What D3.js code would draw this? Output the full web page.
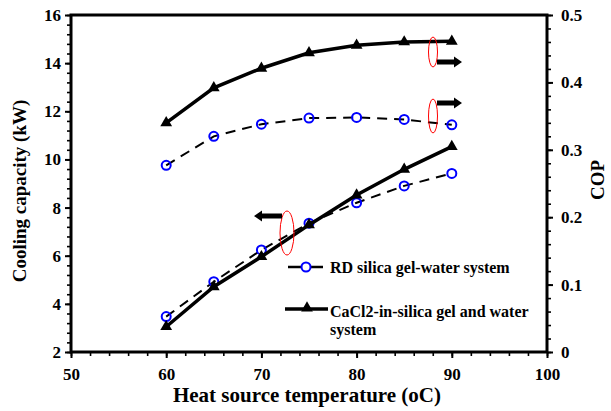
<!DOCTYPE html>
<html>
<head>
<meta charset="utf-8">
<script src="https://cdn.jsdelivr.net/npm/d3@7"></script>
<style>
  body { margin: 0; background: #fff; }
  text { font-family: "Liberation Serif", "Times New Roman", serif; font-weight: bold; }
</style>
</head>
<body>
<div id="chart"></div>
<script>
// temperatures (oC)
const temps = [60, 65, 70, 75, 80, 85, 90];

// cooling capacity (kW), left axis
const coolRD = [3.47, 4.92, 6.24, 7.35, 8.20, 8.90, 9.42];
const coolCaCl2 = [3.05, 4.71, 5.96, 7.28, 8.52, 9.59, 10.53];

// COP, right axis
const copRD = [0.277, 0.320, 0.338, 0.347, 0.348, 0.345, 0.337];
const copCaCl2 = [0.340, 0.392, 0.421, 0.444, 0.455, 0.460, 0.461];

const xTicks = [50, 60, 70, 80, 90, 100];
const yLeftTicks = [2, 4, 6, 8, 10, 12, 14, 16];
const yRightTicks = [0, 0.1, 0.2, 0.3, 0.4, 0.5];

const legendLabels = ['RD silica gel-water system', 'CaCl2-in-silica gel and water', 'system'];

const W = 611, H = 411;
const pLeft = 71, pRight = 547, pTop = 15, pBottom = 352;

const svg = d3.select('#chart').append('svg')
  .attr('width', W)
  .attr('height', H);

const x = d3.scaleLinear().domain([50, 100]).range([pLeft, pRight]);
const yL = d3.scaleLinear().domain([2, 16]).range([pBottom, pTop]);
const yR = d3.scaleLinear().domain([0, 0.5]).range([pBottom, pTop]);

// minor ticks first, then major ones with labels
function minor(axis, values, tx, ty) {
  const g = svg.append('g').attr('transform', `translate(${tx},${ty})`)
    .call(axis.tickValues(values).tickSize(4).tickFormat(''));
  g.select('.domain').remove();
  g.selectAll('line').attr('stroke', '#000').attr('stroke-width', 1.6);
}
minor(d3.axisBottom(x), d3.range(50, 100.01, 2), 0, pBottom);
minor(d3.axisLeft(yL), d3.range(2, 16.01, 0.4), pLeft, 0);
minor(d3.axisRight(yR), d3.range(0, 0.501, 0.02), pRight, 0);

function major(axis, tx, ty) {
  const g = svg.append('g').attr('transform', `translate(${tx},${ty})`).call(axis);
  g.select('.domain').remove();
  g.selectAll('line').attr('stroke', '#000').attr('stroke-width', 2);
  g.selectAll('text').attr('fill', '#000').style('font-size', '17px');
  return g;
}
major(d3.axisBottom(x).tickValues(xTicks).tickSize(6).tickPadding(10).tickFormat(d3.format('d')), 0, pBottom);
major(d3.axisLeft(yL).tickValues(yLeftTicks).tickSize(6).tickPadding(4).tickFormat(d3.format('d')), pLeft, 0);
major(d3.axisRight(yR).tickValues(yRightTicks).tickSize(6).tickPadding(8).tickFormat(d => d === 0 ? '0' : d3.format('.1f')(d)), pRight, 0);

// frame
svg.append('rect')
  .attr('x', pLeft).attr('y', pTop)
  .attr('width', pRight - pLeft).attr('height', pBottom - pTop)
  .attr('fill', 'none').attr('stroke', '#000').attr('stroke-width', 3);

const tri = d3.symbol().type(d3.symbolTriangle).size(60);

function series(vals, yScale, kind) {
  const pts = temps.map((t, i) => [x(t), yScale(vals[i])]);
  const line = d3.line();
  const path = svg.append('path').attr('d', line(pts)).attr('fill', 'none').attr('stroke', '#000');
  if (kind === 'tri') {
    path.attr('stroke-width', 3.5);
    svg.append('g').selectAll('path').data(pts).join('path')
      .attr('d', tri).attr('transform', d => `translate(${d[0]},${d[1]})`).attr('fill', '#000');
  } else {
    path.attr('stroke-width', 2).attr('stroke-dasharray', '10,7');
    svg.append('g').selectAll('circle').data(pts).join('circle')
      .attr('cx', d => d[0]).attr('cy', d => d[1]).attr('r', 4.5)
      .attr('fill', 'none').attr('stroke', '#0000ff').attr('stroke-width', 2);
  }
}
series(copRD, yR, 'circ');
series(copCaCl2, yR, 'tri');
series(coolRD, yL, 'circ');
series(coolCaCl2, yL, 'tri');

// ellipses marking the curve groups
const ellipses = [
  { cx: 433, cy: 52, rx: 4.5, ry: 15 },
  { cx: 433, cy: 116, rx: 4.5, ry: 17 },
  { cx: 287, cy: 233, rx: 7, ry: 22 }
];
svg.append('g').selectAll('ellipse').data(ellipses).join('ellipse')
  .attr('cx', d => d.cx).attr('cy', d => d.cy).attr('rx', d => d.rx).attr('ry', d => d.ry)
  .attr('fill', 'none').attr('stroke', '#ff0000').attr('stroke-width', 1);

// arrows pointing to the relevant axis
function arrow(x0, x1, y) {
  const dir = Math.sign(x1 - x0);
  const hx = x1 - dir * 8;
  svg.append('path')
    .attr('d', `M${x0},${y - 2.5}L${hx},${y - 2.5}L${hx},${y - 5.5}L${x1},${y}L${hx},${y + 5.5}L${hx},${y + 2.5}L${x0},${y + 2.5}Z`)
    .attr('fill', '#000');
}
arrow(437, 462, 62);
arrow(437, 462, 103);
arrow(282, 254, 216);

// legend
const lg = svg.append('g');
lg.append('line').attr('x1', 288).attr('x2', 323).attr('y1', 267).attr('y2', 267)
  .attr('stroke', '#000').attr('stroke-width', 2.5);
lg.append('circle').attr('cx', 306).attr('cy', 267).attr('r', 4.5)
  .attr('fill', '#fff').attr('stroke', '#0000ff').attr('stroke-width', 2);
lg.append('text').attr('x', 330).attr('y', 273).style('font-size', '16px').text(legendLabels[0]);
lg.append('line').attr('x1', 285).attr('x2', 328).attr('y1', 309).attr('y2', 309)
  .attr('stroke', '#000').attr('stroke-width', 3.5);
lg.append('path').attr('d', tri).attr('transform', 'translate(307,308)').attr('fill', '#000');
lg.append('text').attr('x', 330).attr('y', 317).style('font-size', '16px').text(legendLabels[1]);
lg.append('text').attr('x', 330).attr('y', 335).style('font-size', '16px').text(legendLabels[2]);

// axis titles
svg.append('text').attr('x', 307).attr('y', 402).attr('text-anchor', 'middle')
  .style('font-size', '21px').text('Heat source temperature (oC)');
svg.append('text').attr('transform', 'translate(26,191) rotate(-90)').attr('text-anchor', 'middle')
  .style('font-size', '19px').text('Cooling capacity (kW)');
svg.append('text').attr('transform', 'translate(604,180) rotate(-90)').attr('text-anchor', 'middle')
  .style('font-size', '19px').text('COP');
</script>
</body>
</html>
